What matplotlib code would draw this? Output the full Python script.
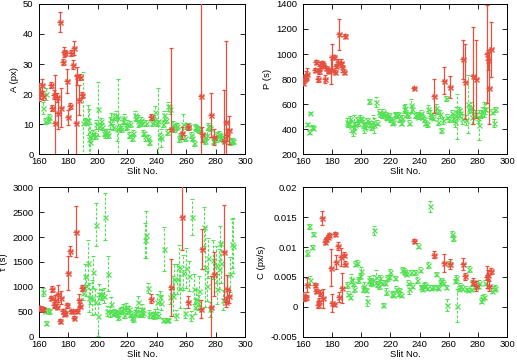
import matplotlib
matplotlib.use("Agg")
import matplotlib.pyplot as plt
from matplotlib.ticker import FuncFormatter

# ---- slits ----
red_slit = [160, 161, 162, 163,
            168, 169, 170, 171, 172, 173, 174, 175, 176, 177, 178, 179, 180,
            181, 182, 183, 184, 185, 186, 187, 188, 189,
            236, 250, 257, 261, 270, 271, 277, 279, 286, 287, 288, 289]

green_slit = [163, 164, 165, 166, 167,
              190, 191, 192, 193, 194, 195, 196, 197, 198, 199,
              200, 201, 202, 203, 204, 205, 206, 207, 208, 209,
              210, 211, 212, 213, 214, 215, 216, 217, 218, 219,
              220, 221, 222, 223, 224, 225, 226, 227, 228, 229,
              230, 231, 232, 233, 234, 235,
              237, 238, 239, 240, 241, 242, 243, 244, 245, 246, 247, 248, 249,
              251, 252, 253, 254, 255, 256,
              258, 259, 260,
              262, 263, 264, 265, 266, 267, 268, 269,
              272, 273, 274, 275, 276,
              278,
              280, 281, 282, 283, 284, 285,
              290, 291, 292]

# ---- A (px) ----
A_red = [20.8, 20.2, 23.0, 19.5,
         23.0, 15.3, 19.7, 10.3, 19.0, 13.7, 44.0, 15.4, 30.8, 34.0, 33.6, 24.4,
         12.3, 16.1, 33.8, 29.7, 35.4, 10.2, 26.0, 18.0, 25.8, 19.8,
         12.5, 8.3, 7.0, 9.0, 19.2, 6.6, 13.0, 5.8, 4.3, 10.8, 6.5, 8.0]
A_red_err = [3.0, 2.0, 2.0, 1.5,
             1.0, 1.0, 1.5, 16.0, 1.5, 5.3, 3.2, 6.5, 1.0, 1.5, 1.0, 4.0,
             2.5, 1.0, 1.0, 1.5, 2.3, 16.0, 3.0, 5.0, 1.0, 1.0,
             1.0, 27.0, 2.0, 1.0, 33.0, 2.5, 7.2, 2.7, 17.0, 27.0, 2.0, 4.7]
A_green = [15.3, 11.0, 20.0, 11.5, 12.2,
           10.5, 11.0, 10.8, 11.2, 5.0, 4.0, 6.5, 7.0, 6.0, 10.0,
           15.0, 9.5, 11.0, 9.0, 7.0, 6.8, 7.5, 6.5, 10.5, 11.8,
           9.0, 12.5, 13.0, 8.5, 12.0, 9.0, 8.5, 11.0, 12.0, 9.0,
           10.0, 6.5, 10.0, 5.5, 7.0, 13.0, 12.0, 11.0, 10.5, 11.3,
           10.5, 7.0, 6.0, 10.5, 5.5, 4.0,
           10.5, 11.5, 14.0, 10.5, 11.0, 6.0, 5.5, 10.0, 13.0, 11.5, 7.5, 16.0, 15.0,
           10.0, 8.5, 9.0, 9.5, 5.0, 6.0,
           10.0, 5.5, 9.5,
           9.5, 6.5, 5.5, 3.8, 9.0, 8.7, 8.5, 8.0,
           5.5, 4.5, 6.5, 9.5, 8.8,
           4.5,
           5.0, 6.5, 6.8, 5.5, 5.8, 5.0,
           4.0, 4.5, 4.3]
A_green_err = [2, 1, 2, 1, 1,
               17, 1, 1, 5, 10, 6, 1.5, 1, 1, 1.5,
               9, 1, 1, 1, 1, 1.5, 1, 1, 2, 2,
               1, 1, 1.5, 4, 13, 1, 1, 1, 1.5, 1,
               1.5, 1, 1, 1, 1, 1.5, 1, 2, 1, 1,
               1, 1, 1.5, 1, 1, 1,
               1, 1.5, 2, 1, 11, 1, 3, 1, 1.5, 1, 1, 1.5, 1.5,
               1, 1, 1, 1, 1, 1,
               3.5, 1, 1,
               1, 1, 1, 1, 1, 1, 1, 1,
               1, 1, 1.5, 1, 1,
               1,
               1, 1, 1, 1, 1, 1,
               1, 1, 1]

# ---- P (s) ----
P_red = [772, 799, 825, 841,
         872, 938, 801, 864, 904, 925, 912, 801, 886, 872, 867, 870,
         973, 978, 859, 904, 938, 1157, 930, 899, 859, 1144,
         727, 667, 788, 735, 957, 780, 828, 798, 1000, 952, 727, 1039]
P_red_err = [20, 30, 40, 45,
             15, 15, 25, 20, 30, 20, 20, 30, 15, 20, 20, 110,
             110, 15, 15, 15, 20, 125, 30, 40, 20, 15,
             10, 135, 105, 90, 155, 300, 390, 310, 390, 80, 290, 220]
P_green = [437, 377, 530, 419, 411,
           456, 437, 477, 424, 385, 450, 429, 477, 445, 490,
           480, 440, 410, 430, 470, 622, 440, 420, 460, 430,
           620, 450, 540, 520, 510, 540, 520, 500, 490, 510,
           480, 450, 460, 520, 510, 520, 480, 450, 490, 560,
           570, 520, 510, 450, 590, 560,
           510, 520, 500, 510, 530, 500, 480, 450, 440, 560, 520, 500, 490,
           570, 540, 460, 520, 390, 470,
           645, 500, 480,
           530, 490, 460, 540, 500, 550, 530, 480,
           470, 600, 560, 580, 500,
           520,
           490, 430, 520, 540, 560, 560,
           540, 450, 560]
P_green_err = [15, 15, 10, 15, 15,
               30, 20, 30, 50, 40, 60, 25, 20, 20, 25,
               20, 30, 40, 30, 20, 20, 25, 30, 50, 60,
               40, 20, 20, 20, 20, 20, 20, 20, 20, 20,
               20, 20, 20, 20, 20, 20, 20, 20, 25, 30,
               30, 20, 20, 20, 50, 30,
               20, 20, 20, 20, 20, 20, 20, 20, 20, 30, 30, 20, 20,
               30, 20, 30, 30, 20, 30,
               20, 20, 20,
               20, 30, 40, 40, 180, 30, 30, 40,
               40, 230, 30, 40, 60,
               30,
               40, 120, 30, 40, 60, 40,
               20, 30, 20]

# ---- tau (s) ----
T_red = [576, 570, 563, 560,
         780, 960, 642, 741, 596, 861, 311, 781, 510, 463, 480, 629,
         1280, 1720, 510, 510, 380, 2110, 520, 730, 620, 980,
         760, 990, 2400, 690, 560, 1760, 600, 1260, 1700, 700, 960, 810]
T_red_err = [30, 30, 30, 40,
             40, 60, 60, 90, 50, 170, 40, 130, 40, 40, 40, 50,
             350, 100, 30, 30, 30, 510, 40, 130, 50, 60,
             90, 570, 650, 120, 180, 400, 620, 440, 940, 100, 280, 130]
T_green = [900, 520, 265, 520, 510,
           884, 1217, 1017, 1483, 785, 800, 785, 1297, 700, 2248,
           419, 851, 860, 831, 820, 2414, 520, 1264, 500, 650,
           480, 500, 470, 450, 400, 520, 540, 580, 430, 600,
           520, 560, 450, 400, 350, 480, 520, 690, 450, 500,
           560, 480, 1940, 2050, 980, 450,
           430, 420, 480, 700, 440, 800, 680, 340, 1760, 340, 330, 340, 800,
           815, 1160, 430, 1160, 1395, 982,
           1282, 480, 1380,
           1214, 415, 2400, 950, 600, 748, 680, 915,
           2213, 1402, 1015, 1582, 550,
           1550,
           1448, 950, 1360, 1880, 1480, 740,
           1250, 1870, 1830]
T_green_err = [80, 50, 40, 50, 50,
               150, 250, 200, 450, 300, 150, 350, 320, 250, 430,
               400, 200, 100, 100, 150, 480, 100, 350, 100, 150,
               60, 60, 60, 60, 60, 60, 60, 80, 50, 80,
               60, 60, 60, 60, 50, 60, 80, 120, 60, 80,
               100, 80, 350, 470, 100, 80,
               60, 60, 80, 150, 60, 120, 150, 40, 440, 30, 30, 30, 150,
               400, 300, 100, 300, 450, 400,
               350, 100, 400,
               300, 100, 360, 300, 150, 200, 150, 300,
               400, 800, 300, 400, 150,
               400,
               380, 300, 400, 350, 400, 200,
               350, 500, 550]

# ---- C (px/s) ----
C_red = [0.0019, 0.0014, 0.0016, 0.0037,
         0.0036, 0.0026, 0.0003, 0.0009, 0.0023, 0.0149, 0.0014, 0.0108, 0.0113,
         0.0117, 0.0120, 0.0065, 0.0007, 0.0004, 0.0122, 0.0075, 0.0102, 0.0016,
         0.0083, 0.0031, 0.0087, 0.0072,
         0.0110, 0.0087, 0.0074, 0.0072, 0.0072, 0.0051, 0.0042, 0.0035,
         0.0050, 0.0053, 0.0035, 0.0060]
C_red_err = [0.0005, 0.0004, 0.0004, 0.0012,
             0.0003, 0.0003, 0.0005, 0.0006, 0.0005, 0.0012, 0.0016, 0.0003, 0.0003,
             0.0003, 0.0003, 0.0031, 0.0015, 0.0003, 0.0004, 0.0012, 0.0007, 0.0008,
             0.0015, 0.0025, 0.0004, 0.0004,
             0.0003, 0.0006, 0.0015, 0.0008, 0.0010, 0.0006, 0.0006, 0.0008,
             0.0018, 0.0008, 0.0008, 0.0005]
C_green = [0.0090, 0.0135, 0.0044, 0.0100, 0.0122,
           0.0036, 0.0022, 0.0017, 0.0047, 0.0040, 0.0030, 0.0072, 0.0074, 0.0045, 0.0052,
           0.0060, 0.0030, 0.0035, 0.0028, 0.0010, 0.0045, 0.0043, 0.0040, 0.0045, 0.0128,
           0.0050, 0.0038, 0.0035, 0.0048, 0.0040, 0.0003, 0.0040, 0.0025, 0.0048, 0.0050,
           0.0058, 0.0022, 0.0020, 0.0048, 0.0030, 0.0022, 0.0028, 0.0020, 0.0062, 0.0060,
           0.0058, 0.0055, 0.0040, 0.0030, 0.0058, 0.0035,
           0.0058, 0.0045, 0.0102, 0.0062, 0.0033, 0.0030, 0.0035, 0.0037, 0.0032,
           0.0070, 0.0168, 0.0032, 0.0033,
           0.0055, 0.0033, 0.0032, 0.0040, 0.0045, 0.0040,
           0.0033, 0.0003, 0.0072,
           0.0122, 0.0115, 0.0043, 0.0048, 0.0002, 0.0030, 0.0035, 0.0032,
           0.0030, 0.0028, 0.0063, 0.0030, 0.0040,
           0.0033,
           0.0035, 0.0040, 0.0010, 0.0015, 0.0017, 0.0040,
           0.0027, 0.0030, 0.0032]
C_green_err = [0.0005, 0.0004, 0.0008, 0.0004, 0.0004,
               0.0005, 0.0004, 0.0004, 0.0008, 0.0006, 0.0005, 0.0004, 0.0004, 0.0005, 0.0005,
               0.0006, 0.0005, 0.0006, 0.0004, 0.0008, 0.0006, 0.0006, 0.0005, 0.0008, 0.0008,
               0.0012, 0.0005, 0.0005, 0.0006, 0.0004, 0.0004, 0.0004, 0.0006, 0.0005, 0.0004,
               0.0005, 0.0005, 0.0004, 0.0004, 0.0004, 0.0004, 0.0004, 0.0004, 0.0004, 0.0005,
               0.0004, 0.0004, 0.0004, 0.0008, 0.0004, 0.0004,
               0.0004, 0.0005, 0.0004, 0.0004, 0.0004, 0.0004, 0.0004, 0.0004, 0.0004,
               0.0005, 0.0010, 0.0004, 0.0004,
               0.0004, 0.0004, 0.0004, 0.0004, 0.0004, 0.0004,
               0.0004, 0.0010, 0.0004,
               0.0005, 0.0005, 0.0004, 0.0006, 0.0028, 0.0004, 0.0004, 0.0004,
               0.0004, 0.0004, 0.0005, 0.0004, 0.0004,
               0.0004,
               0.0004, 0.0004, 0.0004, 0.0004, 0.0004, 0.0004,
               0.0004, 0.0004, 0.0004]

RED = '#e6503e'
GREEN = '#55e055'
FONT = 'Liberation Sans'

plt.rcParams['font.family'] = FONT
plt.rcParams['font.size'] = 6.8


def panel(ax, yr, yr_err, yg, yg_err, ylabel, ylim, yticks, fmt):
    '''one gnuplot-style panel: green dashed + red solid error bars'''
    eb = ax.errorbar(green_slit, yg, yerr=yg_err, fmt='none', ecolor=GREEN,
                     elinewidth=0.8, capsize=1.5, capthick=0.8, zorder=2)
    eb[2][0].set_linestyle((0, (2.5, 1.5)))
    ax.plot(green_slit, yg, 'x', color=GREEN, ms=3.6, mew=0.9, zorder=3)
    ax.errorbar(red_slit, yr, yerr=yr_err, fmt='none', ecolor=RED,
                elinewidth=0.9, capsize=1.5, capthick=0.9, zorder=4)
    ax.plot(red_slit, yr, 'x', color=RED, ms=3.6, mew=1.0, zorder=5)
    ax.plot(red_slit, yr, '+', color=RED, ms=4.2, mew=1.0, zorder=5)
    ax.set_xlim(160, 300)
    ax.set_ylim(*ylim)
    ax.set_xticks(range(160, 301, 20))
    ax.set_yticks(yticks)
    ax.yaxis.set_major_formatter(FuncFormatter(fmt))
    ax.tick_params(direction='in', top=True, right=True, length=3.5,
                   width=0.6, labelsize=6.8)
    ax.tick_params(axis='y', pad=4)
    ax.tick_params(axis='x', pad=2.5)
    for s in ax.spines.values():
        s.set_linewidth(0.7)
    ax.set_xlabel('Slit No.', fontsize=6.8, labelpad=0.5)
    ax.set_ylabel(ylabel, fontsize=6.8, labelpad=3)


fig = plt.figure(figsize=(5.17, 3.6), dpi=100)
ax1 = fig.add_axes([0.0754, 0.5722, 0.3985, 0.4167])
ax2 = fig.add_axes([0.586, 0.5722, 0.3946, 0.4167])
ax3 = fig.add_axes([0.0754, 0.0650, 0.3985, 0.4145])
ax4 = fig.add_axes([0.586, 0.0650, 0.3946, 0.4145])

intfmt = lambda v, p: '%d' % v
gfmt = lambda v, p: '%g' % round(v, 4)

panel(ax1, A_red, A_red_err, A_green, A_green_err, 'A (px)', (0, 50),
      range(0, 51, 10), intfmt)
panel(ax2, P_red, P_red_err, P_green, P_green_err, 'P (s)', (200, 1400),
      range(200, 1401, 200), intfmt)
panel(ax3, T_red, T_red_err, T_green, T_green_err, '\u03c4 (s)', (0, 3000),
      range(0, 3001, 500), intfmt)
panel(ax4, C_red, C_red_err, C_green, C_green_err, 'C (px/s)', (-0.005, 0.02),
      [-0.005, 0, 0.005, 0.01, 0.015, 0.02], gfmt)

fig.savefig('out.png', dpi=100)
